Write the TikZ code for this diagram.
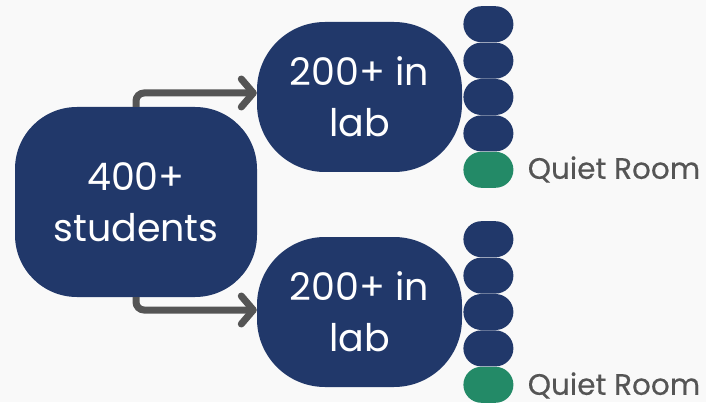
\documentclass[tikz,border=0pt]{standalone}
\usepackage{fontspec}
\setmainfont{Poppins}
\newfontfamily\roomfont{Poppins}[FakeBold=0.4]
\usepackage{tikz}
\usetikzlibrary{arrows.meta,positioning}
\definecolor{navy}{HTML}{21386A}
\definecolor{quietgreen}{HTML}{238A67}
\definecolor{arrowgray}{HTML}{555555}
\definecolor{bggray}{HTML}{F9F9F9}

\begin{document}
\begin{tikzpicture}[x=1pt,y=1pt,
        blob/.style={fill=navy,text=white,align=center,
            font=\fontsize{38}{51}\selectfont},
        pill/.style={fill=navy,minimum width=50pt,minimum height=36pt,
            rounded corners=18pt,inner sep=0pt},
        quiet/.style={pill,fill=quietgreen},
        roomtext/.style={text=arrowgray,inner sep=0pt,
            font=\roomfont\fontsize{29.5}{34}\selectfont},
        flow/.style={arrowgray,line width=7pt,rounded corners=8pt,
            -{Straight Barb[length=12pt,width=28pt,round]}}]

        % Background
        \fill[bggray] (0,0) rectangle (706,402);
        \useasboundingbox (0,0) rectangle (706,402);

        % All students
        \node[blob,
        minimum width=242pt,
        minimum height=190pt,
        rounded corners=62pt] (block1) at (136,200) {400+\\students};

        % Two lab groups
        \node[blob,
        minimum width=205pt,
        minimum height=150pt,
        rounded corners=68pt] (block2) at (359.5,305) {200+ in\\lab};

        \node[blob,
        minimum width=205pt,
        minimum height=150pt,
        rounded corners=68pt] (block3) at (359.5,90) {200+ in\\lab};

        % Rooms of the upper group
        \node[pill,right=1pt of block2] (block6) {};
        \node[pill,above=0pt of block6] (block5) {};
        \node[pill,above=0pt of block5] (block4) {};
        \node[pill,below=0pt of block6] (block7) {};
        \node[quiet,below=0pt of block7] (block8) {};
        \node[roomtext,anchor=base west] (block9)
            at ([xshift=14pt,yshift=-9pt]block8.east) {Quiet Room};

        % Rooms of the lower group
        \node[pill,right=1pt of block3] (block12) {};
        \node[pill,above=0pt of block12] (block11) {};
        \node[pill,above=0pt of block11] (block10) {};
        \node[pill,below=0pt of block12] (block13) {};
        \node[quiet,below=0pt of block13] (block14) {};
        \node[roomtext,anchor=base west] (block15)
            at ([xshift=14pt,yshift=-10pt]block14.east) {Quiet Room};

        % Arrows
        \draw[flow] (block1.north) |- ([yshift=4pt]block2.west);
        \draw[flow] (block1.south) |- ([yshift=2pt]block3.west);
\end{tikzpicture}
\end{document}
